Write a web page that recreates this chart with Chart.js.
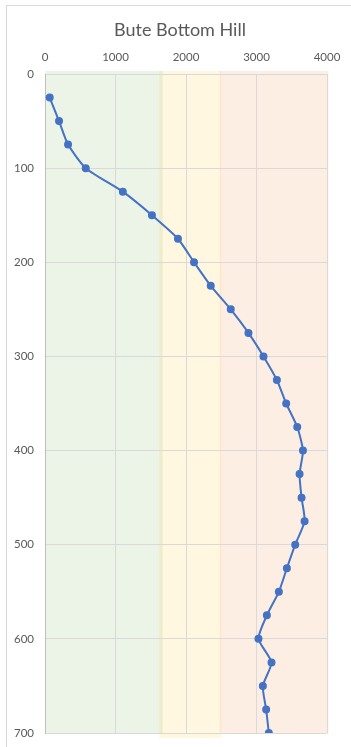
<!DOCTYPE html>
<html>
<head>
<meta charset="utf-8">
<script src="https://cdn.jsdelivr.net/npm/chart.js@4.4.1/dist/chart.umd.min.js"></script>
<style>
  html, body { margin: 0; padding: 0; background: #fff; }
  #wrap { width: 351px; height: 747px; position: relative; }
</style>
</head>
<body>
<div id="wrap"><canvas id="profile"></canvas></div>
<script>
'use strict';

// Profile data: depth (y) vs value (x)
var depths = [25, 50, 75, 100, 125, 150, 175, 200, 225, 250, 275, 300, 325, 350,
              375, 400, 425, 450, 475, 500, 525, 550, 575, 600, 625, 650, 675, 700];
var values = [67, 199, 327, 578, 1104, 1517, 1886, 2114, 2351, 2635, 2886, 3099, 3289, 3421,
              3578, 3659, 3611, 3639, 3682, 3549, 3431, 3317, 3147, 3028, 3213, 3090, 3137, 3175];

var xTicks = [0, 1000, 2000, 3000, 4000];
var yTicks = [0, 100, 200, 300, 400, 500, 600, 700];

// Background zones (x ranges)
var bandStart = [0, 1620, 2480];
var bandEnd = [1670, 2500, 4020];
var bandColors = ['rgba(112,173,71,0.13)', 'rgba(255,192,0,0.12)', 'rgba(237,125,49,0.13)'];
var bandBottomExtra = [0, 5, 1];

var TEXT = '#595959';
var GRID = '#D9D9D9';

var points = depths.map(function(d, i) { return { x: values[i], y: d }; });

// Bands + chart frame, drawn before the grid
var backdrop = {
  id: 'backdrop',
  beforeDraw: function(chart) {
    var ctx = chart.ctx, area = chart.chartArea, xs = chart.scales.x;
    ctx.save();
    ctx.fillStyle = '#fff';
    ctx.fillRect(0, 0, chart.width, chart.height);
    ctx.strokeStyle = GRID;
    ctx.lineWidth = 1;
    ctx.strokeRect(6.5, 5.5, chart.width + 20, chart.height + 20);
    for (var i = 0; i < bandStart.length; i++) {
      var x0 = xs.getPixelForValue(bandStart[i]);
      var x1 = xs.getPixelForValue(bandEnd[i]);
      ctx.fillStyle = bandColors[i];
      ctx.fillRect(x0, area.top - 3, x1 - x0, area.bottom - area.top + 3 + bandBottomExtra[i]);
    }
    ctx.restore();
  },
  afterDraw: function(chart) {
    var ctx = chart.ctx;
    ctx.save();
    ctx.fillStyle = TEXT;
    ctx.font = '18px Lato, "Open Sans", sans-serif';
    ctx.textAlign = 'center';
    ctx.textBaseline = 'middle';
    ctx.fillText('Bute Bottom Hill', 180, 30);
    ctx.restore();
  }
};

function plain(v) { return String(v); }

new Chart(document.getElementById('profile'), {
  type: 'scatter',
  data: {
    datasets: [{
      data: points,
      showLine: true,
      borderColor: '#4472C4',
      backgroundColor: '#4472C4',
      borderWidth: 2,
      pointRadius: 3,
      pointHoverRadius: 3,
      tension: 0.2
    }]
  },
  options: {
    responsive: true,
    maintainAspectRatio: false,
    animation: false,
    layout: { padding: { left: 0, right: 24, top: 0, bottom: 14 } },
    plugins: { legend: { display: false }, tooltip: { enabled: false }, title: { display: false } },
    scales: {
      x: {
        type: 'linear',
        position: 'top',
        min: xTicks[0],
        max: xTicks[xTicks.length - 1],
        afterFit: function(s) { s.height = 74; s.paddingLeft = 0; s.paddingRight = 0; },
        afterBuildTicks: function(s) { s.ticks = xTicks.map(function(v) { return { value: v }; }); },
        grid: { color: GRID, drawTicks: false },
        border: { color: GRID },
        ticks: { color: TEXT, padding: 10, callback: plain, font: { family: 'Lato', size: 11.5 } }
      },
      y: {
        type: 'linear',
        reverse: true,
        min: yTicks[0],
        max: yTicks[yTicks.length - 1],
        afterFit: function(s) { s.width = 45; s.paddingTop = 0; s.paddingBottom = 0; },
        afterBuildTicks: function(s) { s.ticks = yTicks.map(function(v) { return { value: v }; }); },
        grid: { color: GRID, drawTicks: false },
        border: { color: '#BFBFBF' },
        ticks: { color: TEXT, padding: 11, callback: plain, font: { family: 'Lato', size: 11.5 } }
      }
    }
  },
  plugins: [backdrop]
});
</script>
</body>
</html>
